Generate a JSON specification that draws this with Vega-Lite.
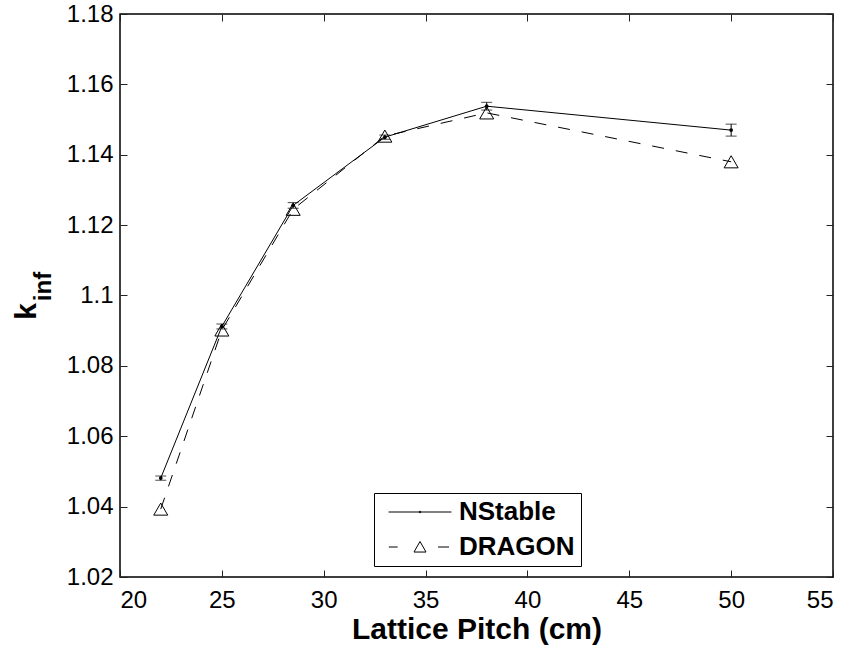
{
  "$schema": "https://vega.github.io/schema/vega-lite/v6.json",
  "autosize": {"type": "none"},
  "padding": {"left": 120, "top": 14, "right": 18, "bottom": 71},
  "width": 713,
  "height": 563,
  "background": "white",
  "config": {
    "view": {"stroke": "black", "strokeWidth": 1.5},
    "font": "Liberation Sans",
    "axis": {
      "grid": false,
      "domain": false,
      "labelFont": "Liberation Sans",
      "labelFontSize": 24,
      "labelColor": "black",
      "titleFont": "Liberation Sans",
      "titleColor": "black",
      "tickColor": "#222",
      "tickWidth": 1
    }
  },
  "data": {
    "values": [
      {"pitch": 22, "series": "NStable", "k": 1.0481, "err": 0.0006},
      {"pitch": 25, "series": "NStable", "k": 1.0912, "err": 0.0007},
      {"pitch": 28.5, "series": "NStable", "k": 1.1256, "err": 0.0008},
      {"pitch": 33, "series": "NStable", "k": 1.1450, "err": 0.0006},
      {"pitch": 38, "series": "NStable", "k": 1.1538, "err": 0.0011},
      {"pitch": 50, "series": "NStable", "k": 1.1470, "err": 0.0017},
      {"pitch": 22, "series": "DRAGON", "k": 1.0393, "err": 0},
      {"pitch": 25, "series": "DRAGON", "k": 1.0902, "err": 0},
      {"pitch": 28.5, "series": "DRAGON", "k": 1.1245, "err": 0},
      {"pitch": 33, "series": "DRAGON", "k": 1.1453, "err": 0},
      {"pitch": 38, "series": "DRAGON", "k": 1.1519, "err": 0},
      {"pitch": 50, "series": "DRAGON", "k": 1.1380, "err": 0}
    ]
  },
  "resolve": {"axis": {"x": "independent", "y": "independent"}},
  "layer": [
    {
      "transform": [{"filter": "datum.series === 'NStable'"}],
      "mark": {"type": "line", "color": "black", "strokeWidth": 1},
      "encoding": {
        "x": {
          "field": "pitch", "type": "quantitative",
          "scale": {"domain": [20, 55], "nice": false, "zero": false},
          "axis": {
            "orient": "bottom", "values": [20, 25, 30, 35, 40, 45, 50, 55], "format": "d",
            "ticks": false, "labelPadding": 11,
            "title": "Lattice Pitch (cm)", "titleFontSize": 30, "titleFontWeight": "bold",
            "titleBaseline": "alphabetic", "titleY": 61
          }
        },
        "y": {
          "field": "k", "type": "quantitative",
          "scale": {"domain": [1.02, 1.18], "nice": false, "zero": false},
          "axis": {
            "orient": "left",
            "values": [1.02, 1.04, 1.06, 1.08, 1.1, 1.12, 1.14, 1.16, 1.18], "format": ".2~f",
            "ticks": false, "labelPadding": 7,
            "title": "k", "titleFontSize": 30, "titleFontWeight": "bold",
            "titleAngle": 270, "titleBaseline": "alphabetic", "titleAlign": "center",
            "titleX": -85, "titleY": 297
          }
        }
      }
    },
    {
      "transform": [{"filter": "datum.series === 'DRAGON'"}],
      "mark": {"type": "line", "color": "black", "strokeWidth": 1, "strokeDash": [12, 12]},
      "encoding": {
        "x": {"field": "pitch", "type": "quantitative", "axis": null},
        "y": {"field": "k", "type": "quantitative", "axis": null}
      }
    },
    {
      "transform": [{"filter": "datum.series === 'NStable'"}],
      "mark": {"type": "errorbar", "color": "black", "ticks": {"size": 11, "color": "black"}, "rule": {"strokeWidth": 1}},
      "encoding": {
        "x": {"field": "pitch", "type": "quantitative", "axis": null},
        "y": {"field": "k", "type": "quantitative", "axis": null},
        "yError": {"field": "err"}
      }
    },
    {
      "transform": [{"filter": "datum.series === 'NStable'"}],
      "mark": {"type": "point", "shape": "circle", "filled": true, "color": "black", "size": 14, "opacity": 1},
      "encoding": {
        "x": {
          "field": "pitch", "type": "quantitative",
          "axis": {"orient": "bottom", "values": [20, 25, 30, 35, 40, 45, 50, 55], "labels": false, "tickSize": -7, "title": null}
        },
        "y": {
          "field": "k", "type": "quantitative",
          "axis": {"orient": "left", "values": [1.02, 1.04, 1.06, 1.08, 1.1, 1.12, 1.14, 1.16, 1.18], "labels": false, "tickSize": -7, "title": null}
        }
      }
    },
    {
      "transform": [{"filter": "datum.series === 'DRAGON'"}],
      "mark": {"type": "point", "shape": "triangle-up", "filled": false, "color": "black", "size": 196, "strokeWidth": 1, "opacity": 1},
      "encoding": {
        "x": {
          "field": "pitch", "type": "quantitative",
          "axis": {"orient": "top", "values": [20, 25, 30, 35, 40, 45, 50, 55], "labels": false, "tickSize": -7, "title": null}
        },
        "y": {
          "field": "k", "type": "quantitative",
          "axis": {"orient": "right", "values": [1.02, 1.04, 1.06, 1.08, 1.1, 1.12, 1.14, 1.16, 1.18], "labels": false, "tickSize": -7, "title": null}
        }
      }
    },
    {
      "mark": {"type": "point", "filled": false, "color": "black", "size": 0, "strokeWidth": 0},
      "encoding": {
        "x": {"field": "pitch", "type": "quantitative", "axis": null},
        "y": {
          "field": "k", "type": "quantitative",
          "axis": {
            "orient": "left", "labels": false, "ticks": false,
            "title": "inf", "titleFontSize": 24, "titleFontWeight": "bold",
            "titleAngle": 270, "titleBaseline": "alphabetic", "titleAlign": "center",
            "titleX": -70, "titleY": 272
          }
        },
        "shape": {
          "field": "series", "type": "nominal",
          "scale": {
            "domain": ["NStable", "DRAGON"],
            "range": [
              "M-2.62,0L2.62,0M0,-0.07A0.07,0.07 0 1 1 0,0.07A0.07,0.07 0 1 1 0,-0.07",
              "M-2.6,0L-1.86,0M0,-0.46L0.5,0.42L-0.5,0.42ZM1.5,0L2.42,0"
            ]
          },
          "legend": {
            "title": null,
            "orient": "none", "legendX": 254, "legendY": 479,
            "fillColor": "white", "strokeColor": "black", "padding": 6,
            "symbolSize": 576, "symbolOffset": 27, "symbolStrokeWidth": 1,
            "symbolStrokeColor": "black", "symbolFillColor": "transparent", "symbolOpacity": 1,
            "rowPadding": 9, "labelOffset": 26,
            "labelFont": "Liberation Sans", "labelFontSize": 26, "labelFontWeight": "bold", "labelColor": "black",
            "encode": {
              "symbols": {"update": {"size": {"value": 576}, "strokeWidth": {"value": 1}, "opacity": {"value": 1}, "stroke": {"value": "black"}}},
              "legend": {"update": {"strokeWidth": {"value": 1.5}}}
            }
          }
        }
      }
    }
  ]
}
